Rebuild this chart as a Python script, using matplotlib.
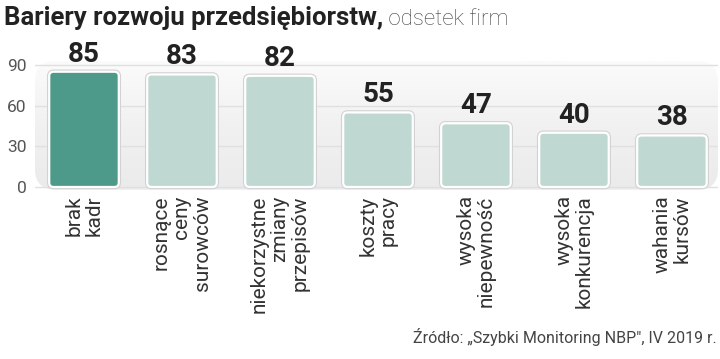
import matplotlib
matplotlib.use("Agg")
import matplotlib.pyplot as plt
import matplotlib.font_manager as fm
from matplotlib.patches import FancyBboxPatch
import numpy as np

# dane
kategorie = ["brak\nkadr", "rosnące\nceny\nsurowców", "niekorzystne\nzmiany\nprzepisów",
             "koszty\npracy", "wysoka\nniepewność", "wysoka\nkonkurencja", "wahania\nkursów"]
odsetek = [85, 83, 82, 55, 47, 40, 38]
y_ticks = [0, 30, 60, 90]
tytul = "Bariery rozwoju przedsiębiorstw,"
podtytul = " odsetek firm"
zrodlo = "Źródło: „Szybki Monitoring NBP\", IV 2019 r."

names = {f.name for f in fm.fontManager.ttflist}
narrow = "Liberation Sans Narrow" if "Liberation Sans Narrow" in names else "Roboto"
plt.rcParams["font.family"] = ["Roboto", "DejaVu Sans"]

fig = plt.figure(figsize=(7.2, 3.59), dpi=100)
ax = fig.add_axes([35 / 720, 1 - 189.7 / 359, 683 / 720, 0.3588])
ax.set_xlim(-0.5, 6.47)
ax.set_ylim(-2, 93)
for s in ax.spines.values():
    s.set_visible(False)

# tło panelu z gradientem
panel = FancyBboxPatch((0, 0), 1, 1, boxstyle="round,pad=0,rounding_size=0.03",
                       transform=ax.transAxes, facecolor="none", edgecolor="none",
                       mutation_aspect=683 / 128)
ax.add_patch(panel)
grad = np.linspace(0, 1, 100).reshape(-1, 1)
cmap = matplotlib.colors.LinearSegmentedColormap.from_list("g", ["#ebebeb", "#f1f1f1", "#fbfbfb"])
im = ax.imshow(grad, extent=[0, 1, 0, 1], transform=ax.transAxes, origin="lower",
               cmap=cmap, aspect="auto", zorder=0)
im.set_clip_path(panel)

ax.set_yticks(y_ticks)
ax.yaxis.grid(True, color="#e0e0e0", lw=1, zorder=1)
ax.set_axisbelow(True)
ax.tick_params(axis="y", length=0, pad=6, labelsize=12.5, labelcolor="#555555")

x = np.arange(len(odsetek))
kolory = ["#4e9a8a"] + ["#bfd9d2"] * (len(odsetek) - 1)
bars = ax.bar(x, odsetek, width=0.71, color=kolory)
aspect = (98 / 1.356)
for b, c in zip(bars, kolory):
    bx, by, bw, bh = b.get_x(), b.get_y(), b.get_width(), b.get_height()
    b.set_visible(False)
    for ec, lw, z in [("#d2d2d2", 3.2, 2), ("white", 1.6, 3)]:
        p = FancyBboxPatch((bx, by), bw, bh, boxstyle="round,pad=0,rounding_size=0.045",
                           mutation_aspect=aspect, facecolor=c, edgecolor=ec, lw=lw, zorder=z)
        ax.add_patch(p)
    ax.annotate(str(int(bh)), (bx + bw / 2, bh), xytext=(0, 3), textcoords="offset points",
                ha="center", va="bottom", fontsize=20, fontweight="bold",
                family=[narrow, "DejaVu Sans"], color="#222222", zorder=5)

ax.set_xticks(x)
ax.set_xticklabels(kategorie, rotation=90, ha="center", va="top", multialignment="right",
                   fontsize=15, color="#333333", linespacing=1.1)
ax.tick_params(axis="x", length=0, pad=4)

# tytuł
t1 = fig.text(4 / 720, 1 - 25 / 359, tytul, fontsize=18.5, fontweight="bold",
              family=[narrow, "DejaVu Sans"], color="#222222", va="baseline")
fig.canvas.draw()
bb = t1.get_window_extent()
fig.text(bb.x1 / 720, 1 - 25 / 359, podtytul, fontsize=16, color="#444444", va="baseline",
         fontweight="light")

fig.text(717 / 720, 1 - 343 / 359, zrodlo, fontsize=11.5, color="#444444", ha="right",
         va="baseline")

fig.savefig("out.png", dpi=100)
